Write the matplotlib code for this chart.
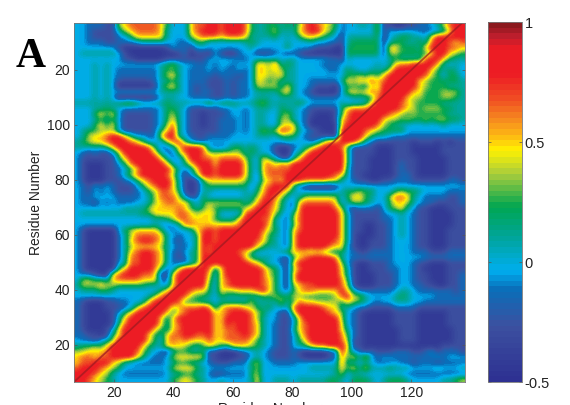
import numpy as np
import matplotlib
matplotlib.use('Agg')
import matplotlib.pyplot as plt
from matplotlib.colors import LinearSegmentedColormap

# correlation, one digit per cell, 2 residues wide
# 0 navy ... 3 cyan ... 5 green ... 7 yellow ... 9 red
levels = [-0.42, -0.28, -0.14, -0.03, 0.1, 0.23, 0.37, 0.5, 0.66, 0.82]

left_cells = [
    "3322211678888875333788", "3321111467888874333789", "3321111235777774333678",
    "3322211222344443322355", "3333333100000001322133", "3444444310000000012011",
    "3333333311000001111111", "3334343333333345643322", "3334343222222245543222",
    "3334343222222246743222", "3334343111111244543222", "3334343000000146743212",
    "3334343333333344443212", "3334343000000134433222", "4444444566544445444444",
    "3334454322222235543111", "3335757311111235643110", "3334545311111235743110",
    "3335757311111236843110", "3455666311111257943111", "3467789975332279943211",
    "4567789998753336895322",
    "4444457999998522479998", "3212113699999742268998", "3111111579999974236998",
    "3100011358999997425799", "3100011235799999742479", "3100011246899998631369",
    "3100011123578999741015", "3213232111357899741014", "3213232111235688751014",
    "3223333222234688863125", "3221323222334678877535", "3333333344446777787545",
    "3444444444455777788767", "3333333333333445688777", "3333333333333432348877",
    "3100000356777753233478", "3100000246888874323359", "3100000247899874213359",
    "3100000246777764322359", "3100000247899874213459", "3100000248899874212459",
    "3100000348899874222459",
    "3100000579999852379999", "3221007899988711799999", "3665547888877722799999",
    "4666766555554433799999", "3444554333333357999877", "3333333333334689998655",
    "2100011223347999985554", "2100011123689999678889", "2100001357999997578999",
    "2100001479999974799999", "2100001589999974789999", "2100013799999754789999",
    "2211015799997547889988", "3221346999997537878777", "4556579999975447776545",
    "6677789999864321455445", "7887889999753223677776", "7889997643222223455443",
    "8999876533333333677754", "9998764322222223445544", "9987654333333333567654",
]

middle_cells = [
    "9989998544554546898765", "9989998544564447899764", "8878887444453435776543",
    "3333334543333433343322", "3333333433333533321110", "0310023311123121000000",
    "3333322344443443333322", "3233233377684543333222", "3232232377676443333322",
    "2122212377667443333333", "1112122376564443322222", "1112122366664743321110",
    "2112122344446743210000", "1112122344434443322222", "6455544456444445433333",
    "1122332344435443211111", "1112332344335643210001", "1122232344336643200001",
    "1122232344336773200000", "1122232346569874321000", "2222333344435553211110",
    "3333333333333433323688",
    "3223554543310023468999", "6666664543310034799999", "8788886437541147999999",
    "9799997437868799999999", "9899997437888899999999", "9899997427888999999998",
    "7777776426787999888877", "5555555247899952100001", "4333334357998643333333",
    "3333334468986434666666", "6666664579975327888887", "7555556799875328999998",
    "7633338999864258999999", "7544479998843268999999", "7777789999743258999999",
    "9899999998653278999999", "9899999997543279999999", "9899999987543279999998",
    "8999999975443279999987", "8999987533334577767654", "9999997544432157899998",
    "9999999875332179999999",
    "8479999998653168999999", "7379999998653179999999", "6378999998753179999999",
    "5378999998753167889999", "5376677789753257887777", "4354444445565566555556",
    "4344444644446458776666", "8478887654534389999877", "9778999865331169999987",
    "9779999864331137999999", "9779899874321137899999", "9778899874321147899999",
    "9778889874321136899999", "8778888754321135799999", "7654777654321134578899",
    "1100012343211121000012", "1100011343211121000012", "2111222563322223333333",
    "3333333463333333344444", "2112222563333333333334", "3343333473344434444455",
]

right_cells = [
    "233443611001122346899", "233333613333322234799", "144444513455443799999",
    "145555514554454899878", "055555517755547999887", "055555516655555799765",
    "143333334544448997544", "333333434788999974343", "354334446999999754543",
    "355656579999998653553", "476778789999976555554", "355547699999976555444",
    "367678799999775556664", "334445899997665556654", "433347999987655554444",
    "578889999987656665544", "589999998765655555444", "789999976656556566554",
    "799999865443333334333", "999987655553333333333", "999975443222222222222",
    "999742111111011101011",
    "851111000111000001111", "951111000111000001111", "951110000111100000111",
    "951110000121100000111", "941110000121100000111", "741100000122100000111",
    "432110011222111111221", "333333333333333333333", "455655333565543333222",
    "357754336887432222112", "346654335776432211112", "621222135674311000111",
    "741111123343211000011", "741111122343211000011", "741100112343211000011",
    "741100112343211000111", "741000112343211000111", "741001112333211000111",
    "731001112333211000111", "532112222333222111222", "432222222333332222222",
    "631001112333211000111", "741001112233210000111", "741000111233211000112",
    "851000111233211000112", "861000111233221100112", "974222222344322222212",
    "896643333454333322222", "576543233444332222222", "443221111222211111111",
    "632100000111100000111", "632100000111100000111", "732100000111100000111",
    "742100000011100000011", "852100000011100000011", "861100000011100000011",
    "971100000000000001111", "963212111222112312221", "857473233222222232333",
    "844343222322122212222", "757474445444333343334", "634433333332222222222",
    "435554345554333334456",
]

x_ticks = [20, 40, 60, 80, 100, 120]
x_labels = ['20', '40', '60', '80', '100', '120']
y_ticks = [20, 40, 60, 80, 100, 120]
y_labels = ['20', '40', '60', '80', '100', '20']
cbar_ticks = [-0.5, 0, 0.5, 1]
cbar_labels = ['-0.5', '0', '0.5', '1']
first_residue = 6.5
last_x = 138
last_y = 137

# colour bar stops, value then colour
cmap_values = [-0.5, -0.275, -0.12, -0.04, 0.09, 0.23, 0.37, 0.47, 0.53, 0.61, 0.68, 0.79, 0.9, 0.95, 1.0]
cmap_colors = ['#2e3192', '#3c50a0', '#0a6eb9', '#00aeef', '#00a5a0', '#00a651', '#aacd3c', '#fff200',
               '#fdb913', '#f58220', '#f05023', '#ed1c24', '#ed1c24', '#be1e2d', '#8c191e']


def row_values(cells, width):
    return [levels[int(c)] for c in cells[:width].ljust(width, '3')]


corr = np.array([row_values(a, 22) + row_values(b, 22) + row_values(c, 21)
                 for a, b, c in zip(left_cells, middle_cells, right_cells)])

plt.rcParams['font.family'] = ['Liberation Sans', 'DejaVu Sans']
W, H = 570, 405
fig = plt.figure(figsize=(W / 100, H / 100), dpi=100)
ax = fig.add_axes([74 / W, 1 - 382 / H, 391 / W, 359 / H])

span = cmap_values[-1] - cmap_values[0]
stops = [((v - cmap_values[0]) / span, c) for v, c in zip(cmap_values, cmap_colors)]
cmap = LinearSegmentedColormap.from_list('print_jet', stops, N=64)

im = ax.imshow(corr, cmap=cmap, vmin=-0.5, vmax=1, aspect='auto', interpolation='bicubic',
               extent=[first_residue, last_x, first_residue, last_y], origin='upper')
ax.plot([first_residue, last_y], [first_residue, last_y], color='#a01a20', lw=1.3, alpha=0.75)
ax.set_xlim(first_residue, last_x)
ax.set_ylim(first_residue, last_y)
ax.set_xticks(x_ticks)
ax.set_xticklabels(x_labels)
ax.set_yticks(y_ticks)
ax.set_yticklabels(y_labels)
ax.tick_params(direction='in', length=2.5, width=0.5, top=True, right=True, labelsize=10,
               color='#555555', labelcolor='#222222', pad=3)
for s in ax.spines.values():
    s.set_linewidth(0.6)
    s.set_color('#777777')

cax = fig.add_axes([488 / W, 1 - 382 / H, 34 / W, 360 / H])
cb = fig.colorbar(im, cax=cax)
cb.set_ticks(cbar_ticks)
cb.set_ticklabels(cbar_labels)
cb.ax.tick_params(direction='in', length=2.5, width=0.5, left=True, right=True, labelsize=10.5,
                  color='#555555', labelcolor='#222222', pad=2)
cb.outline.set_linewidth(0.6)
cb.outline.set_edgecolor('#777777')

fig.text(36 / W, 1 - 203 / H, 'Residue Number', rotation=90, ha='center', va='center',
         fontsize=10, color='#222222')
fig.text(270 / W, 1 - 402 / H, 'Residue Number', ha='center', va='top', fontsize=10, color='#222222')
fig.text(16 / W, 1 - 67 / H, 'A', family=['Liberation Serif'], weight='bold', fontsize=30,
         ha='left', va='baseline', color='black')

fig.savefig('out.png', dpi=100)
